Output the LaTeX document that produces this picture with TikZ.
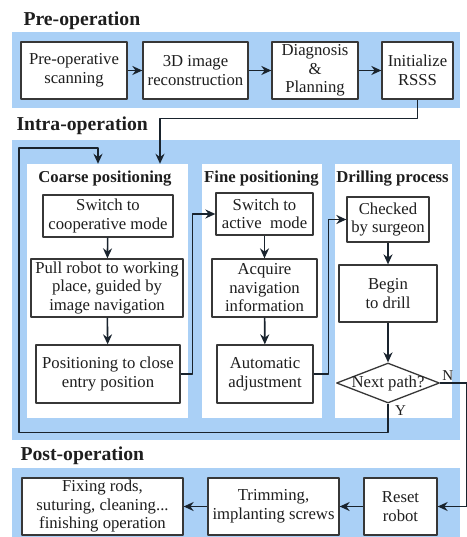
\documentclass[tikz,border=0pt]{standalone}
\usepackage{fontspec}
\setmainfont{Liberation Serif}
\usetikzlibrary{arrows.meta,calc,shapes.geometric}

\definecolor{bandblue}{RGB}{170,208,246}
\definecolor{boxline}{RGB}{55,55,55}
\definecolor{flowline}{RGB}{25,35,45}
\definecolor{inktext}{RGB}{30,30,30}

\tikzset{
  band/.style={fill=bandblue, draw=none},
  panel/.style={fill=white, draw=none, inner sep=0pt},
  box/.style={draw=boxline, line width=1.3pt, fill=white, inner sep=0pt, align=center,
    text=inktext, font=\fontsize{16.7}{18.5}\selectfont},
  decision/.style={diamond, draw=boxline, line width=1.3pt, fill=white, inner sep=0pt,
    minimum width=103pt, minimum height=40pt},
  phase/.style={anchor=base west, text=inktext, font=\fontsize{19.7}{22}\selectfont\bfseries},
  paneltitle/.style={anchor=base, text=inktext, font=\fontsize{16.7}{18.5}\selectfont\bfseries},
  flow/.style={-{Stealth[length=10pt,width=9pt]}, line width=1.6pt, draw=flowline},
  yn/.style={text=inktext, font=\fontsize{15}{16}\selectfont, inner sep=1pt},
}

\begin{document}
\begin{tikzpicture}[x=1pt, y=-1pt, line join=round]
  \useasboundingbox (0,0) rectangle (466,537);
  % Phase bands.
  \fill[band] (12,32) rectangle (460,108);
  \fill[band] (12,140) rectangle (460,440);
  \fill[band] (12,468) rectangle (460,537);
  \node[phase] (tpre) at (20,26) {Pre-operation};
  \node[phase] (tintra) at (13,131) {Intra-operation};
  \node[phase] (tpost) at (17,460) {Post-operation};
  % Pre-operation steps.
  \node[box, minimum width=106pt, minimum height=57pt] (prescan) at (74,70.5) {Pre-operative\\scanning};
  \node[box, minimum width=105pt, minimum height=57pt] (recon) at (195.5,70.5) {3D image\\reconstruction};
  \node[box, minimum width=86pt, minimum height=57pt] (diag) at (315,70.5) {Diagnosis\\\&\\Planning};
  \node[box, minimum width=71pt, minimum height=57pt] (init) at (417.5,70.5) {Initialize\\RSSS};
  % Intra-operation panels.
  \node[panel, minimum width=161pt, minimum height=254pt] (coarse) at (107.5,291) {};
  \node[panel, minimum width=120pt, minimum height=254pt] (fine) at (262,291) {};
  \node[panel, minimum width=117pt, minimum height=254pt] (drill) at (393.5,291) {};
  \node[paneltitle] (tcoarse) at (105,183) {Coarse positioning};
  \node[paneltitle] (tfine) at (261.5,183) {Fine positioning};
  \node[paneltitle] (tdrill) at (392.5,183) {Drilling process};
  % Coarse positioning.
  \node[box, minimum width=130pt, minimum height=42pt] (coop) at (108,216) {Switch to\\cooperative mode};
  \node[box, minimum width=152pt, minimum height=58pt] (pull) at (107,288) {Pull robot to working\\place, guided by\\image navigation};
  \node[box, minimum width=144pt, minimum height=58pt] (close) at (108,374) {Positioning to close\\entry position};
  % Fine positioning.
  \node[box, minimum width=97pt, minimum height=42pt] (active) at (264.5,214) {Switch to\\active~ mode};
  \node[box, minimum width=105pt, minimum height=58pt] (acquire) at (264.5,288) {Acquire\\navigation\\information};
  \node[box, minimum width=96pt, minimum height=58pt] (adjust) at (265,374) {Automatic\\adjustment};
  % Drilling process.
  \node[box, minimum width=82pt, minimum height=45pt] (checked) at (388,219.5) {Checked\\by surgeon};
  \node[box, minimum width=98pt, minimum height=57pt] (bore) at (388,293.5) {Begin\\to drill};
  \node[decision, label={[box, draw=none, fill=none]center:Next path?}] (next) at (388,383) {};
  % Post-operation steps.
  \node[box, minimum width=161pt, minimum height=57pt] (fixing) at (102.5,506.5) {Fixing rods,\\suturing, cleaning...\\finishing operation};
  \node[box, minimum width=131pt, minimum height=57pt] (trim) at (273.5,506.5) {Trimming,\\implanting screws};
  \node[box, minimum width=73pt, minimum height=57pt] (reset) at (400.5,506.5) {Reset\\robot};
  % Connectors.
  \draw[flow] (prescan) -- (recon);
  \draw[flow] (recon) -- (diag);
  \draw[flow] (diag) -- (init);
  \draw[flow] (init.south) -- ++(0,19) -| ($(coarse.north)+(52.5,0)$);
  \draw[flow] (coop) -- (pull);
  \draw[flow] (pull) -- (close);
  \draw[flow] (close.east) -- ++(12,0) |- (active.west);
  \draw[flow] (active) -- (acquire);
  \draw[flow] (acquire) -- (adjust);
  \draw[flow] (adjust.east) -- ++(15,0) |- (checked.west);
  \draw[flow] (checked) -- (bore);
  \draw[flow] (bore) -- (next);
  \draw[flow] (next.south) -- ++(0,29) -| (19,148) -| ($(coarse.north)+(-9.5,0)$);
  \draw[flow] (next.east) -- ++(27,0) |- (reset.east);
  \draw[flow] (reset) -- (trim);
  \draw[flow] (trim) -- (fixing);
  \node[yn, anchor=north west] (ylabel) at ($(next.south)+(6,1)$) {Y};
  \node[yn, anchor=south west] (nlabel) at ($(next.east)+(1,-1)$) {N};
\end{tikzpicture}
\end{document}
